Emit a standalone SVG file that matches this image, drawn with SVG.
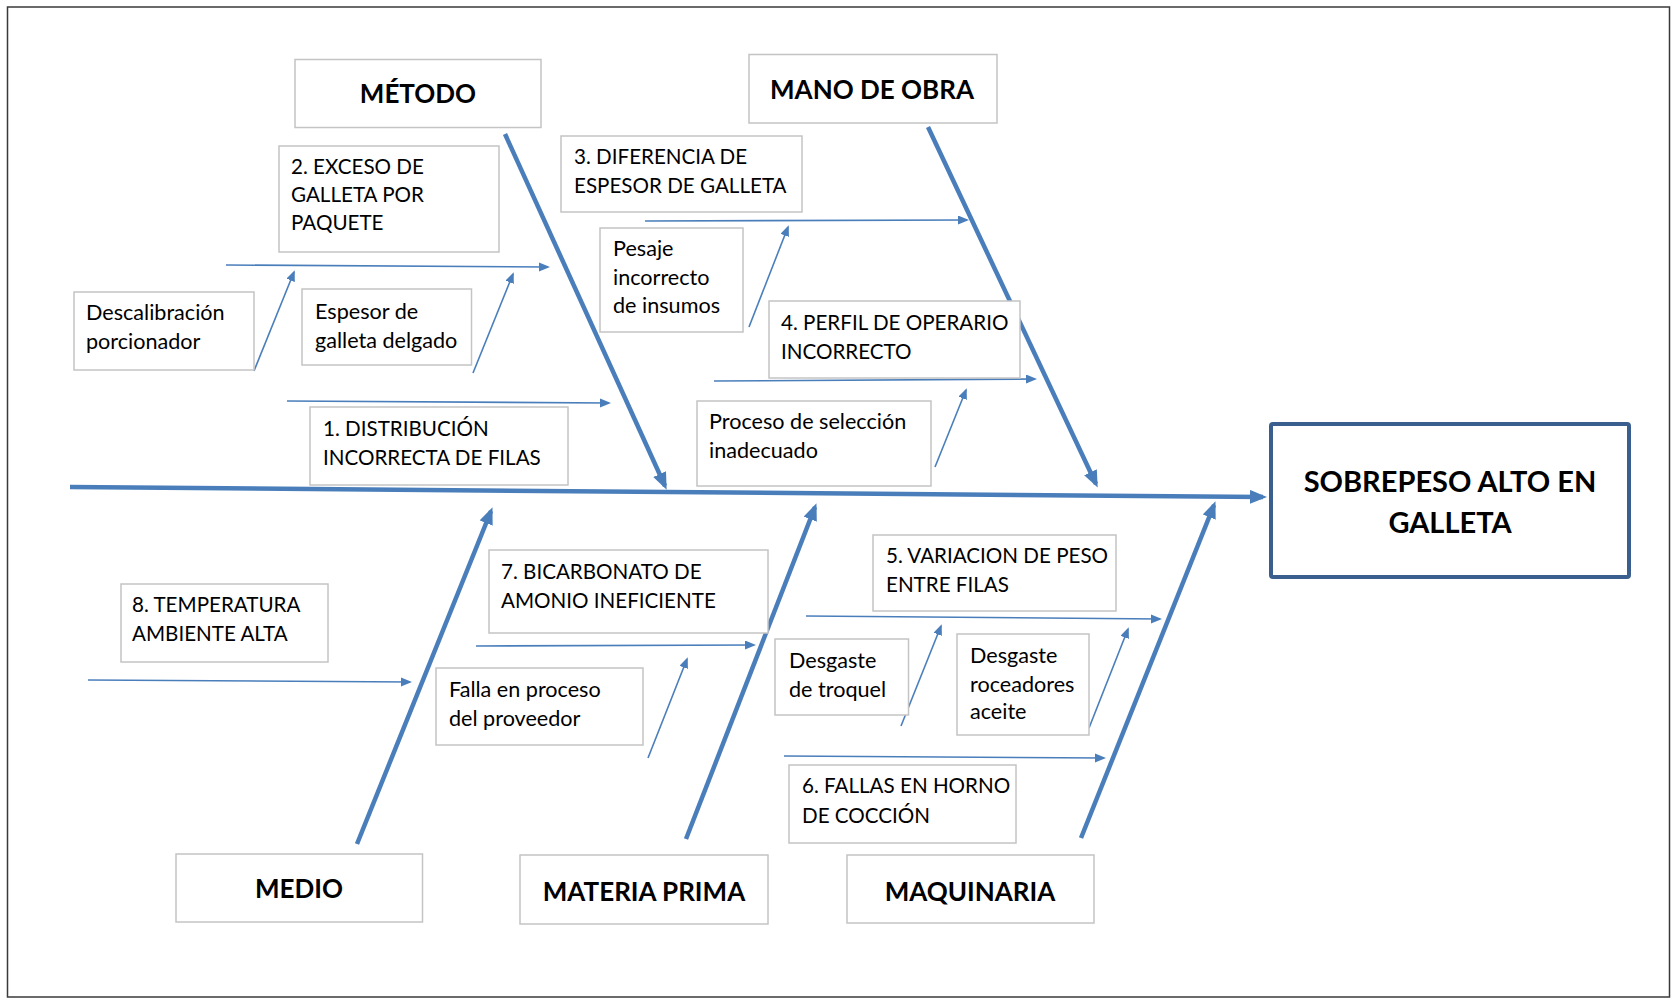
<svg xmlns="http://www.w3.org/2000/svg" width="1674" height="1003" viewBox="0 0 1674 1003">
<defs>
<style>
.frame{fill:#fff;stroke:#3a3a3a;stroke-width:1.5}
.box{fill:#fff;stroke:#c4c4c4;stroke-width:1.5}
.t{font-family:Lato,"Open Sans","Liberation Sans",sans-serif;font-size:21.6px;fill:#000}
.u{font-family:Lato,"Open Sans","Liberation Sans",sans-serif;font-size:20.6px;fill:#000}
.h{font-family:Lato,"Open Sans","Liberation Sans",sans-serif;font-size:26px;font-weight:bold;fill:#000;text-anchor:middle}
.big{font-family:Lato,"Open Sans","Liberation Sans",sans-serif;font-size:29px;font-weight:bold;fill:#000;text-anchor:middle}
.thick{stroke:#4a7ebb;stroke-width:4.5;fill:none;marker-end:url(#ah)}
.thin{stroke:#4a7ebb;stroke-width:1.6;fill:none;marker-end:url(#as)}
</style>
<marker id="ah" markerUnits="userSpaceOnUse" markerWidth="18" markerHeight="14" refX="13" refY="7" orient="auto">
<path d="M0,0 L17,7 L0,14 z" fill="#4a7ebb"/>
</marker>
<marker id="as" markerUnits="userSpaceOnUse" markerWidth="12" markerHeight="10" refX="9" refY="4.5" orient="auto">
<path d="M0,0 L11,4.5 L0,9 z" fill="#4a7ebb"/>
</marker>
</defs>
<rect x="0" y="0" width="1674" height="1003" fill="#fff"/>
<rect class="frame" x="7.5" y="7" width="1662" height="990"/>

<g id="connectors">
<line class="thick" x1="70" y1="487" x2="1263" y2="497"/>
<line class="thick" x1="505" y1="134" x2="665" y2="486"/>
<line class="thick" x1="928" y1="127" x2="1096" y2="484"/>
<line class="thick" x1="357" y1="844" x2="491" y2="511"/>
<line class="thick" x1="686" y1="839" x2="815" y2="507"/>
<line class="thick" x1="1081" y1="838" x2="1214" y2="505"/>
<line class="thin" x1="226" y1="265" x2="548" y2="267"/>
<line class="thin" x1="254" y1="371" x2="294" y2="272"/>
<line class="thin" x1="473" y1="373" x2="513" y2="274"/>
<line class="thin" x1="287" y1="401" x2="609" y2="403"/>
<line class="thin" x1="645" y1="221" x2="967" y2="220"/>
<line class="thin" x1="749" y1="327" x2="788" y2="227"/>
<line class="thin" x1="714" y1="381" x2="1035" y2="379"/>
<line class="thin" x1="935" y1="467" x2="966" y2="390"/>
<line class="thin" x1="88" y1="680" x2="410" y2="682"/>
<line class="thin" x1="476" y1="646" x2="754" y2="645"/>
<line class="thin" x1="648" y1="758" x2="687" y2="659"/>
<line class="thin" x1="806" y1="616" x2="1160" y2="619"/>
<line class="thin" x1="901" y1="726" x2="941" y2="626"/>
<line class="thin" x1="1089" y1="728" x2="1128" y2="629"/>
<line class="thin" x1="784" y1="756" x2="1104" y2="758"/>
</g>

<g id="efecto">
<rect x="1271" y="424" width="358" height="153" rx="2" fill="#fff" stroke="#3a5f8e" stroke-width="4"/>
<text class="big" x="1450" y="492">SOBREPESO ALTO EN</text>
<text class="big" x="1450" y="533">GALLETA</text>
</g>

<g id="metodo">
<rect class="box" x="295" y="59.5" width="246" height="68"/>
<text class="h" x="418" y="103">MÉTODO</text>
</g>
<g id="mano-de-obra">
<rect class="box" x="749" y="54.5" width="248" height="68.5"/>
<text class="h" x="872" y="99">MANO DE OBRA</text>
</g>
<g id="medio">
<rect class="box" x="176" y="854" width="246.5" height="68"/>
<text class="h" x="299" y="898">MEDIO</text>
</g>
<g id="materia-prima">
<rect class="box" x="520" y="855" width="248" height="69"/>
<text class="h" x="644" y="901">MATERIA PRIMA</text>
</g>
<g id="maquinaria">
<rect class="box" x="847" y="855" width="247" height="68"/>
<text class="h" x="970" y="901">MAQUINARIA</text>
</g>

<g id="c2">
<rect class="box" x="279" y="146" width="220" height="106"/>
<text class="u" x="291" y="174">2. EXCESO DE</text>
<text class="u" x="291" y="202">GALLETA POR</text>
<text class="u" x="291" y="230">PAQUETE</text>
</g>
<g id="descalibracion">
<rect class="box" x="74" y="292" width="180" height="78"/>
<text class="t" x="86" y="320">Descalibración</text>
<text class="t" x="86" y="349">porcionador</text>
</g>
<g id="espesor">
<rect class="box" x="302" y="289" width="169.5" height="76"/>
<text class="t" x="315" y="319">Espesor de</text>
<text class="t" x="315" y="348">galleta delgado</text>
</g>
<g id="c1">
<rect class="box" x="310" y="407" width="258" height="78"/>
<text class="u" x="323" y="436">1. DISTRIBUCIÓN</text>
<text class="u" x="323" y="465">INCORRECTA DE FILAS</text>
</g>
<g id="c3">
<rect class="box" x="561" y="136" width="241" height="76"/>
<text class="u" x="574" y="164">3. DIFERENCIA DE</text>
<text class="u" x="574" y="193">ESPESOR DE GALLETA</text>
</g>
<g id="pesaje">
<rect class="box" x="600" y="228" width="143" height="104"/>
<text class="t" x="613" y="256">Pesaje</text>
<text class="t" x="613" y="285">incorrecto</text>
<text class="t" x="613" y="313">de insumos</text>
</g>
<g id="c4">
<rect class="box" x="769" y="301" width="251" height="77"/>
<text class="u" x="781" y="330">4. PERFIL DE OPERARIO</text>
<text class="u" x="781" y="359">INCORRECTO</text>
</g>
<g id="proceso">
<rect class="box" x="697" y="401" width="234" height="85"/>
<text class="t" x="709" y="429">Proceso de selección</text>
<text class="t" x="709" y="458">inadecuado</text>
</g>
<g id="c8">
<rect class="box" x="121" y="584" width="207" height="78"/>
<text class="u" x="132" y="612">8. TEMPERATURA</text>
<text class="u" x="132" y="641">AMBIENTE ALTA</text>
</g>
<g id="c7">
<rect class="box" x="489" y="550" width="279" height="83"/>
<text class="u" x="501" y="579">7. BICARBONATO DE</text>
<text class="u" x="501" y="608">AMONIO INEFICIENTE</text>
</g>
<g id="falla">
<rect class="box" x="436" y="668" width="207" height="77"/>
<text class="t" x="449" y="697">Falla en proceso</text>
<text class="t" x="449" y="726">del proveedor</text>
</g>
<g id="c5">
<rect class="box" x="873" y="535" width="243" height="76"/>
<text class="u" x="886" y="563">5. VARIACION DE PESO</text>
<text class="u" x="886" y="592">ENTRE FILAS</text>
</g>
<g id="troquel">
<rect class="box" x="775" y="639" width="133.5" height="76"/>
<text class="t" x="789" y="668">Desgaste</text>
<text class="t" x="789" y="697">de troquel</text>
</g>
<g id="roceadores">
<rect class="box" x="957" y="634" width="132" height="101"/>
<text class="t" x="970" y="663">Desgaste</text>
<text class="t" x="970" y="692">roceadores</text>
<text class="t" x="970" y="719">aceite</text>
</g>
<g id="c6">
<rect class="box" x="789" y="765" width="227" height="78"/>
<text class="u" x="802" y="793">6. FALLAS EN HORNO</text>
<text class="u" x="802" y="823">DE COCCIÓN</text>
</g>
</svg>
